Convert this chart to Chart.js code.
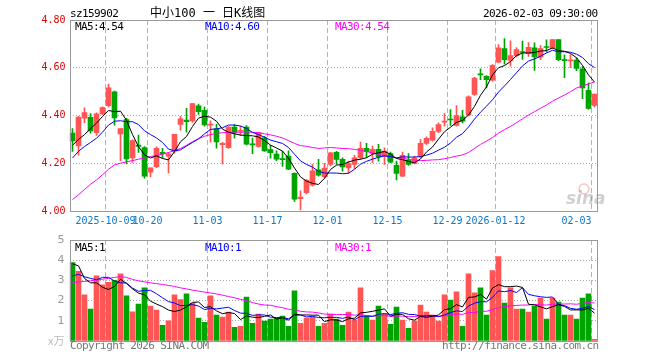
<!DOCTYPE html>
<html>
<head>
<meta charset="utf-8">
<script src="https://cdn.jsdelivr.net/npm/chart.js@4.4.1/dist/chart.umd.min.js"></script>
<style>
body { margin: 0; background: #fff; }
#wrap { position: relative; width: 660px; height: 360px; overflow: hidden; font-family: "DejaVu Sans Mono", monospace; }
canvas { position: absolute; left: 0; top: 0; }
.t { position: absolute; white-space: pre; font-size: 11px; line-height: 11px; letter-spacing: -0.6px; }
.title { font-family: "DejaVu Sans Mono", "Noto Sans CJK SC", monospace; font-size: 12px; line-height: 12px; letter-spacing: 0; }
</style>
</head>
<body>
<div id="wrap">
  <canvas id="kChart" width="660" height="360"></canvas>
  <canvas id="vChart" width="660" height="360"></canvas>
  <div class="t" style="left:70px;top:8px;color:#000">sz159902</div>
  <div class="t title" style="left:150px;top:7px;color:#000">中小100 一 日K线图</div>
  <div class="t" style="left:483px;top:8px;color:#000">2026-02-03 09:30:00</div>
  <div class="t" style="left:75px;top:21px;color:#000">MA5:4.54</div>
  <div class="t" style="left:205px;top:21px;color:#0000ff">MA10:4.60</div>
  <div class="t" style="left:335px;top:21px;color:#ff00ff">MA30:4.54</div>
  <div class="t" style="left:75px;top:242px;color:#000">MA5:1</div>
  <div class="t" style="left:205px;top:242px;color:#0000ff">MA10:1</div>
  <div class="t" style="left:335px;top:242px;color:#ff00ff">MA30:1</div>
  <div class="t" style="left:48px;top:335px;color:#bbb;font-family:'Noto Sans CJK SC';letter-spacing:0">x万</div>
  <div class="t" style="left:70px;top:340px;color:#777">Copyright 2026 SINA.COM</div>
  <div class="t" style="left:442px;top:340px;color:#777">http://finance.sina.com.cn</div>
</div>
<script>
const dates = [
  '2025-09-23','2025-09-24','2025-09-25','2025-09-26','2025-09-29','2025-09-30',
  '2025-10-09','2025-10-10','2025-10-13','2025-10-14','2025-10-15','2025-10-16','2025-10-17',
  '2025-10-20','2025-10-21','2025-10-22','2025-10-23','2025-10-24','2025-10-27','2025-10-28','2025-10-29','2025-10-30','2025-10-31',
  '2025-11-03','2025-11-04','2025-11-05','2025-11-06','2025-11-07','2025-11-10','2025-11-11','2025-11-12','2025-11-13','2025-11-14',
  '2025-11-17','2025-11-18','2025-11-19','2025-11-20','2025-11-21','2025-11-24','2025-11-25','2025-11-26','2025-11-27','2025-11-28',
  '2025-12-01','2025-12-02','2025-12-03','2025-12-04','2025-12-05','2025-12-08','2025-12-09','2025-12-10','2025-12-11','2025-12-12',
  '2025-12-15','2025-12-16','2025-12-17','2025-12-18','2025-12-19','2025-12-22','2025-12-23','2025-12-24','2025-12-25','2025-12-26',
  '2025-12-29','2025-12-30','2025-12-31','2026-01-05','2026-01-06','2026-01-07','2026-01-08','2026-01-09',
  '2026-01-12','2026-01-13','2026-01-14','2026-01-15','2026-01-16','2026-01-19','2026-01-20','2026-01-21','2026-01-22','2026-01-23',
  '2026-01-26','2026-01-27','2026-01-28','2026-01-29','2026-01-30','2026-02-02','2026-02-03'
];

const tickDays = ['2025-10-09','2025-10-20','2025-11-03','2025-11-17','2025-12-01','2025-12-15','2025-12-29','2026-01-12','2026-02-03'];
const tickText = ['2025-10-09','10-20','11-03','11-17','12-01','12-15','12-29','2026-01-12','02-03'];

const open = [4.326,4.273,4.389,4.392,4.328,4.407,4.441,4.499,4.323,4.383,
  4.222,4.276,4.266,4.163,4.186,4.246,4.230,4.251,4.363,4.381,
  4.377,4.440,4.422,4.360,4.344,4.278,4.265,4.351,4.334,4.352,
  4.280,4.270,4.306,4.257,4.238,4.218,4.230,4.158,4.052,4.077,
  4.108,4.172,4.144,4.195,4.246,4.216,4.180,4.195,4.223,4.262,
  4.241,4.258,4.230,4.241,4.191,4.146,4.213,4.199,4.230,4.283,
  4.297,4.333,4.372,4.383,4.358,4.394,4.402,4.488,4.574,4.564,
  4.548,4.623,4.680,4.631,4.651,4.668,4.659,4.683,4.644,4.688,
  4.683,4.718,4.634,4.629,4.632,4.595,4.505,4.442];
const high = [4.345,4.397,4.432,4.408,4.411,4.436,4.532,4.502,4.345,4.388,
  4.298,4.318,4.270,4.181,4.269,4.263,4.246,4.321,4.397,4.430,
  4.450,4.448,4.435,4.378,4.363,4.288,4.354,4.362,4.355,4.358,
  4.305,4.330,4.313,4.275,4.252,4.250,4.252,4.160,4.084,4.133,
  4.195,4.216,4.200,4.246,4.250,4.223,4.209,4.233,4.289,4.283,
  4.272,4.279,4.265,4.247,4.209,4.247,4.241,4.230,4.300,4.311,
  4.348,4.369,4.408,4.425,4.442,4.422,4.482,4.560,4.595,4.567,
  4.613,4.697,4.722,4.713,4.684,4.712,4.705,4.704,4.693,4.717,
  4.718,4.718,4.654,4.655,4.642,4.605,4.537,4.490];
const low = [4.250,4.234,4.370,4.326,4.317,4.403,4.436,4.359,4.211,4.197,
  4.204,4.245,4.138,4.143,4.181,4.221,4.160,4.242,4.339,4.330,
  4.371,4.405,4.355,4.288,4.263,4.197,4.262,4.305,4.316,4.277,
  4.240,4.267,4.250,4.221,4.211,4.187,4.173,4.040,4.005,4.072,
  4.104,4.146,4.137,4.189,4.195,4.167,4.158,4.177,4.216,4.223,
  4.202,4.209,4.195,4.202,4.130,4.144,4.191,4.197,4.223,4.279,
  4.293,4.328,4.355,4.358,4.355,4.369,4.398,4.484,4.550,4.516,
  4.544,4.620,4.615,4.607,4.645,4.635,4.647,4.589,4.634,4.665,
  4.679,4.630,4.558,4.600,4.588,4.470,4.425,4.436];
const close = [4.294,4.393,4.412,4.335,4.407,4.433,4.516,4.390,4.345,4.218,
  4.295,4.270,4.146,4.181,4.263,4.240,4.239,4.321,4.386,4.374,
  4.450,4.416,4.361,4.364,4.289,4.283,4.351,4.327,4.338,4.280,
  4.277,4.328,4.252,4.244,4.217,4.215,4.175,4.050,4.058,4.128,
  4.168,4.150,4.180,4.244,4.216,4.185,4.199,4.223,4.262,4.248,
  4.258,4.227,4.251,4.205,4.157,4.233,4.195,4.222,4.283,4.304,
  4.334,4.362,4.376,4.381,4.400,4.376,4.478,4.557,4.570,4.550,
  4.610,4.683,4.634,4.651,4.676,4.664,4.686,4.645,4.680,4.685,
  4.718,4.634,4.630,4.633,4.597,4.515,4.430,4.490];

const ma5 = [4.275,4.300,4.320,4.345,4.368,4.396,4.421,4.416,4.418,4.380,
  4.320,4.270,4.235,4.222,4.231,4.220,4.214,4.249,4.290,4.312,
  4.354,4.389,4.397,4.393,4.376,4.343,4.330,4.323,4.318,4.316,
  4.315,4.310,4.295,4.276,4.264,4.251,4.221,4.180,4.143,4.125,
  4.116,4.111,4.137,4.174,4.192,4.195,4.205,4.213,4.217,4.223,
  4.238,4.244,4.249,4.238,4.220,4.215,4.208,4.202,4.218,4.247,
  4.268,4.301,4.332,4.351,4.371,4.379,4.402,4.438,4.485,4.520,
  4.570,4.600,4.609,4.626,4.651,4.662,4.662,4.664,4.670,4.672,
  4.683,4.672,4.669,4.660,4.642,4.610,4.570,4.540];
const ma10 = [4.222,4.250,4.270,4.287,4.305,4.330,4.360,4.376,4.378,4.374,
  4.374,4.362,4.336,4.320,4.306,4.287,4.259,4.252,4.256,4.272,
  4.287,4.302,4.323,4.342,4.344,4.349,4.360,4.360,4.356,4.346,
  4.329,4.320,4.309,4.297,4.290,4.283,4.266,4.238,4.210,4.195,
  4.184,4.166,4.159,4.159,4.159,4.156,4.158,4.175,4.196,4.208,
  4.217,4.225,4.231,4.228,4.222,4.227,4.226,4.226,4.228,4.234,
  4.242,4.255,4.267,4.285,4.309,4.324,4.352,4.385,4.414,4.439,
  4.466,4.498,4.524,4.551,4.579,4.608,4.628,4.637,4.648,4.662,
  4.673,4.667,4.667,4.665,4.657,4.643,4.617,4.601];
const ma30 = [4.048,4.068,4.090,4.112,4.130,4.152,4.175,4.193,4.200,4.206,
  4.211,4.217,4.222,4.228,4.233,4.238,4.245,4.253,4.262,4.275,
  4.290,4.303,4.313,4.320,4.325,4.328,4.329,4.330,4.330,4.331,
  4.330,4.328,4.323,4.319,4.313,4.306,4.295,4.283,4.274,4.271,
  4.266,4.262,4.264,4.266,4.264,4.262,4.261,4.258,4.254,4.249,
  4.243,4.237,4.233,4.228,4.223,4.222,4.216,4.213,4.211,4.212,
  4.214,4.215,4.219,4.224,4.230,4.235,4.245,4.262,4.279,4.293,
  4.308,4.326,4.341,4.354,4.370,4.386,4.402,4.416,4.430,4.444,
  4.460,4.473,4.486,4.500,4.515,4.524,4.532,4.541];

// volume in 万
const volume = [3.88,3.45,2.28,1.58,3.23,2.78,2.90,3.00,3.33,2.23,
  1.45,1.83,2.63,1.73,1.53,0.78,1.00,2.28,2.05,2.33,
  1.88,1.13,0.93,2.23,1.28,1.18,1.43,0.68,0.73,2.18,
  0.88,1.33,0.98,1.08,1.13,1.23,0.73,2.48,0.88,1.13,
  1.18,0.73,0.88,1.33,1.08,0.78,1.43,1.03,2.63,1.23,
  1.03,1.73,1.33,0.83,1.68,1.03,0.63,0.98,1.78,1.43,
  1.28,0.98,2.28,2.03,2.43,0.73,3.33,2.38,2.63,1.28,
  3.48,4.18,1.88,2.63,1.58,1.58,1.43,1.73,2.13,1.08,
  2.13,1.93,1.28,1.28,1.08,2.13,2.33,0.08];
const vma5 = [3.82,3.72,3.10,2.88,2.88,2.66,2.55,2.70,3.05,2.85,
  2.58,2.37,2.29,1.97,1.83,1.70,1.53,1.46,1.53,1.69,
  1.91,1.93,1.66,1.70,1.49,1.35,1.41,1.36,1.06,1.24,
  1.18,1.16,1.22,1.29,1.08,1.15,1.03,1.33,1.29,1.29,
  1.28,1.28,0.96,1.05,1.04,0.96,1.10,1.13,1.39,1.42,
  1.47,1.53,1.59,1.23,1.32,1.32,1.10,1.03,1.22,1.17,
  1.22,1.29,1.55,1.60,1.80,1.69,2.16,2.18,2.30,2.07,
  2.62,2.79,2.69,2.69,2.72,2.65,1.82,1.79,1.69,1.59,
  1.70,1.80,1.71,1.54,1.54,1.54,1.62,1.38];
const vma10 = [3.22,3.30,3.18,3.10,3.03,3.15,3.15,2.97,2.88,2.87,
  2.62,2.46,2.50,2.51,2.34,2.14,1.95,1.88,1.75,1.76,
  1.80,1.73,1.56,1.61,1.59,1.63,1.67,1.51,1.38,1.37,
  1.27,1.29,1.29,1.18,1.16,1.17,1.10,1.28,1.29,1.19,
  1.22,1.16,1.15,1.17,1.17,1.12,1.19,1.05,1.22,1.23,
  1.22,1.32,1.36,1.31,1.37,1.40,1.32,1.31,1.23,1.25,
  1.27,1.20,1.29,1.41,1.49,1.46,1.73,1.87,1.95,1.94,
  2.16,2.48,2.44,2.50,2.40,2.64,2.31,2.24,2.19,2.16,
  2.18,1.81,1.75,1.62,1.57,1.62,1.71,1.55];
const vma30 = [2.90,2.92,2.95,2.98,3.02,3.06,3.10,3.15,3.18,3.15,
  3.05,2.98,2.93,2.88,2.84,2.80,2.75,2.70,2.63,2.58,
  2.52,2.47,2.42,2.38,2.33,2.27,2.20,2.14,2.06,2.00,
  1.90,1.83,1.78,1.77,1.70,1.65,1.57,1.56,1.47,1.44,
  1.43,1.39,1.33,1.32,1.31,1.31,1.32,1.28,1.30,1.26,
  1.23,1.25,1.27,1.22,1.23,1.23,1.20,1.21,1.25,1.22,
  1.23,1.22,1.27,1.30,1.34,1.32,1.41,1.41,1.47,1.47,
  1.55,1.66,1.70,1.74,1.76,1.78,1.78,1.81,1.79,1.78,
  1.82,1.83,1.83,1.84,1.82,1.86,1.91,1.88];

const UP = '#ff5555', DOWN = '#00a400';
const MONO = '"DejaVu Sans Mono", monospace';
const colors = close.map((c, i) => c >= open[i] ? UP : DOWN);
const tickIdx = tickDays.map(d => dates.indexOf(d));

const PLOT_LEFT = 69.5, PLOT_RIGHT = 597.5;

// grey frame round the plot area, plus the sina mark
const frame = {
  id: 'frame',
  afterDraw(chart, args, opts) {
    const { ctx, chartArea: a } = chart;
    ctx.save();
    if (opts.mark) {
      ctx.font = 'italic bold 17px "DejaVu Sans", sans-serif';
      ctx.fillStyle = 'rgba(150,150,150,0.45)';
      ctx.fillText('sina', 566, 204);
      ctx.strokeStyle = 'rgba(230,90,90,0.35)';
      ctx.lineWidth = 1.5;
      ctx.beginPath();
      ctx.arc(584, 189, 5, 0, Math.PI * 2);
      ctx.stroke();
    }
    ctx.strokeStyle = '#999';
    ctx.lineWidth = 1;
    const x0 = Math.round(a.left) + 0.5, x1 = Math.round(a.right) - 0.5;
    const y0 = Math.round(a.top) + 0.5, y1 = Math.round(a.bottom) + 0.5;
    ctx.strokeRect(x0, y0, x1 - x0, y1 - y0);
    ctx.restore();
  }
};

function xScale(showLabels) {
  return {
    offset: true,
    grid: {
      offset: true,
      drawTicks: false,
      color: ctx => tickIdx.includes(ctx.index) ? '#b4b4b4' : 'rgba(0,0,0,0)'
    },
    border: { display: false, dash: [5, 3] },
    ticks: {
      display: showLabels,
      autoSkip: false,
      maxRotation: 0,
      minRotation: 0,
      padding: 4,
      labelOffset: -3,
      color: '#0a78cc',
      font: { family: MONO, size: 10 },
      callback: (v, i) => {
        const k = tickDays.indexOf(dates[i]);
        if (k < 0) return '';
        return k === tickDays.length - 1 ? tickText[k] + '     ' : tickText[k];
      }
    },
    afterFit: s => { s.height = showLabels ? 20 : 0; }
  };
}

const maLine = (data, color) => ({
  type: 'line', data, borderColor: color, borderWidth: 1,
  pointRadius: 0, tension: 0, order: 0
});

new Chart(document.getElementById('kChart'), {
  type: 'bar',
  data: {
    labels: dates,
    datasets: [
      maLine(ma5, '#000000'),
      maLine(ma10, '#0000ff'),
      maLine(ma30, '#ff00ff'),
      {
        data: dates.map((d, i) => [low[i], high[i]]),
        backgroundColor: colors, barThickness: 1, grouped: false, order: 2
      },
      {
        data: dates.map((d, i) => [open[i], close[i]]),
        backgroundColor: colors, barThickness: 5, grouped: false, minBarLength: 1, order: 1
      }
    ]
  },
  options: {
    responsive: false,
    animation: false,
    layout: { padding: { left: 0, top: 20, right: 660 - PLOT_RIGHT, bottom: 129 } },
    plugins: { legend: { display: false }, tooltip: { enabled: false }, frame: { mark: true } },
    scales: {
      x: xScale(true),
      y: {
        min: 4.0, max: 4.8,
        grid: {
          drawTicks: false,
          color: ctx => (ctx.tick && ctx.tick.value > 4.01 && ctx.tick.value < 4.79) ? '#aaa' : 'rgba(0,0,0,0)'
        },
        border: { display: false, dash: [1, 2] },
        ticks: {
          stepSize: 0.2, padding: 4, color: '#e00000',
          font: { family: MONO, size: 10 },
          callback: v => v.toFixed(2)
        },
        afterFit: s => { s.width = PLOT_LEFT; }
      }
    }
  },
  plugins: [frame]
});

new Chart(document.getElementById('vChart'), {
  type: 'bar',
  data: {
    labels: dates,
    datasets: [
      maLine(vma5, '#000000'),
      maLine(vma10, '#0000ff'),
      maLine(vma30, '#ff00ff'),
      { data: volume, backgroundColor: colors, barThickness: 5, order: 1 }
    ]
  },
  options: {
    responsive: false,
    animation: false,
    layout: { padding: { left: 0, top: 240, right: 660 - PLOT_RIGHT, bottom: 19 } },
    plugins: { legend: { display: false }, tooltip: { enabled: false }, frame: { mark: false } },
    scales: {
      x: xScale(false),
      y: {
        min: 0, max: 5,
        grid: {
          drawTicks: false,
          color: ctx => (ctx.tick && ctx.tick.value > 0 && ctx.tick.value < 5) ? '#aaa' : 'rgba(0,0,0,0)'
        },
        border: { display: false, dash: [1, 2] },
        ticks: {
          stepSize: 1, padding: 5, color: '#999',
          font: { family: '"DejaVu Sans", sans-serif', size: 11 },
          callback: v => v === 0 ? '' : String(v)
        },
        afterFit: s => { s.width = PLOT_LEFT; }
      }
    }
  },
  plugins: [frame]
});
</script>
</body>
</html>
